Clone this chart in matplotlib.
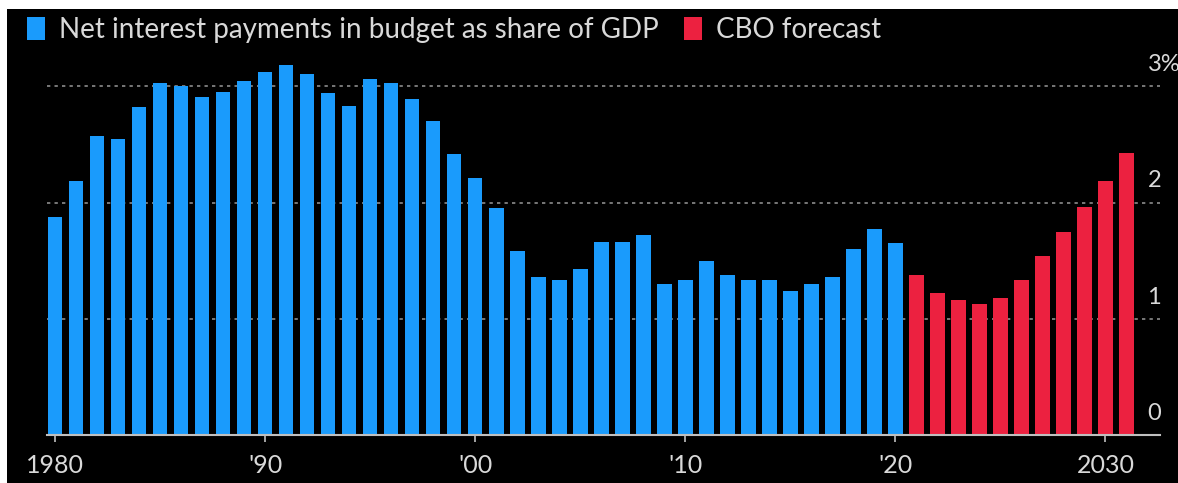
import matplotlib.pyplot as plt
from matplotlib.patches import Rectangle

# net interest payments, % of GDP
hist_years = list(range(1980, 2021))
hist_vals = [1.88, 2.19, 2.57, 2.55, 2.82, 3.03, 3.00, 2.91, 2.95, 3.05,
             3.12, 3.18, 3.11, 2.94, 2.83, 3.06, 3.03, 2.89, 2.70, 2.42,
             2.21, 1.95, 1.58, 1.36, 1.33, 1.43, 1.66, 1.66, 1.72, 1.30,
             1.33, 1.50, 1.38, 1.33, 1.33, 1.24, 1.30, 1.36, 1.60, 1.77,
             1.65]
cbo_years = list(range(2021, 2032))
cbo_vals = [1.38, 1.22, 1.16, 1.13, 1.18, 1.33, 1.54, 1.75, 1.96, 2.19, 2.43]

xticks = [1980, 1990, 2000, 2010, 2020, 2030]
xticklabels = ["1980", "'90", "'00", "'10", "'20", "2030"]
yticks = [0, 1, 2, 3]
yticklabels = ["0", "1", "2", "3%"]

BLUE = "#1a9bfc"
RED = "#ec2140"
TXT = "#d9d9d9"
GRID = "#8c8c8c"

plt.rcParams["font.family"] = ["Lato", "DejaVu Sans"]

fig = plt.figure(figsize=(11.78, 4.83), dpi=100, facecolor="white")
# black panel with a thin white frame at top/left
fig.patches.append(Rectangle((7 / 1178, 0), 1, 1 - 9 / 483, transform=fig.transFigure,
                             facecolor="black", edgecolor="none", zorder=-10))

ax = fig.add_axes([47 / 1178, 1 - 435 / 483, (1160 - 47) / 1178, (435 - 55) / 483])
ax.set_facecolor("none")

ax.bar(hist_years, hist_vals, width=0.7, color=BLUE, zorder=2,
       label="Net interest payments in budget as share of GDP")
ax.bar(cbo_years, cbo_vals, width=0.7, color=RED, zorder=2, label="CBO forecast")

ax.set_xlim(1979.62, 2032.6)
ax.set_ylim(0, 3.27)

for s in ["top", "right", "left"]:
    ax.spines[s].set_visible(False)
ax.spines["bottom"].set_color("#bfbfbf")
ax.spines["bottom"].set_linewidth(1.5)

for v in yticks[1:]:
    ax.axhline(v, color=GRID, lw=1.2, ls=(0, (2, 2.5)), zorder=1)
for v, lab in zip(yticks, yticklabels):
    ax.annotate(lab, xy=(1, v), xycoords=("axes fraction", "data"),
                xytext=(-9, 11), textcoords="offset points",
                ha="left", va="baseline", color=TXT, fontsize=17)
ax.set_yticks([])

ax.set_xticks(xticks)
ax.set_xticklabels(xticklabels)
ax.tick_params(axis="x", colors="#bfbfbf", length=5, width=1.2, labelsize=18,
               labelcolor=TXT, pad=9)

leg = ax.legend(loc="lower left", bbox_to_anchor=(-0.018, 1.032), ncol=2, frameon=False,
                fontsize=20, handlelength=0.65, handleheight=0.9, handletextpad=0.5,
                columnspacing=0.9, borderaxespad=0, borderpad=0)
for t in leg.get_texts():
    t.set_color(TXT)

fig.savefig("out.png", dpi=100, facecolor=fig.get_facecolor())
